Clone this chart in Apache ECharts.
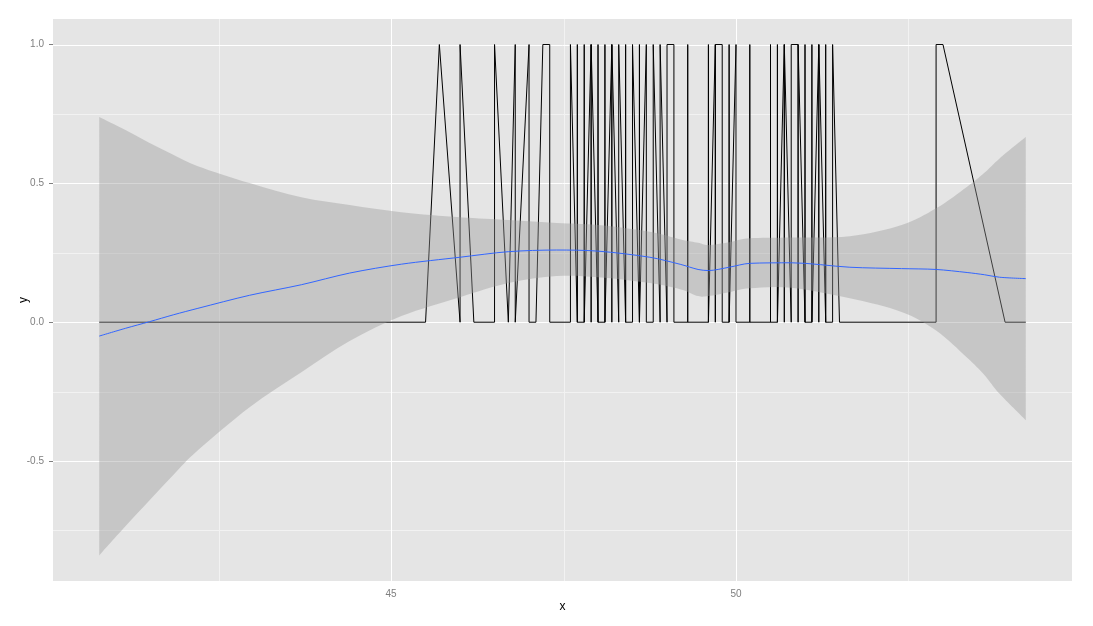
<!DOCTYPE html>
<html><head><meta charset="utf-8">
<script src="https://cdn.jsdelivr.net/npm/echarts@6/dist/echarts.min.js"></script>
<style>html,body{margin:0;padding:0;background:#fff}#c{width:1093px;height:626px}</style>
</head><body><div id="c"></div>
<script>
// raw line: x values (grid of 0.1) and the y values of points sharing each x, in drawing order
const stepX = [40.77, 45.5, 45.7, 46.0, 46.2, 46.5, 46.7, 46.8, 47.0, 47.1, 47.2, 47.3, 47.6, 47.7, 47.8, 47.9, 48.0, 48.1, 48.2, 48.3, 48.4, 48.5, 48.6, 48.7, 48.8, 48.9, 49.0, 49.1, 49.3, 49.6, 49.7, 49.8, 49.9, 50.0, 50.2, 50.5, 50.6, 50.7, 50.8, 50.9, 51.0, 51.1, 51.2, 51.3, 51.4, 51.5, 52.9, 53.0, 53.9, 54.2];
const stepY = [[0],[0],[1],[0,1],[0],[0,1],[0],[1,0],[1,0],[0],[1],[1,0],[0,1],[0,1,0],[0,1,0],[1,0,1],[0,1,0],[0,1,0],[1,0,1],[0,1],[0,1,0],[0,1],[0,1,0],[1,0],[0,1],[0,1],[0,1],[1,0],[0,1,0],[0,1,0],[1,0,1],[1,0],[0,1,0],[1,0],[0,1,0],[0,1,0],[0,1,0],[1,0,1],[0,1],[1,0,1],[0,1,0],[0,1,0],[1,0,1],[0,1,0],[0,1],[0],[0,1],[1],[0],[0]];

// smoother (fit) and its confidence band
const smoothX = [40.77, 41.15, 41.5, 41.85, 42.2, 42.95, 43.7, 44.4, 45.15, 46.0, 46.7, 47.4, 48.0, 48.75, 49.2, 49.45, 49.6, 49.9, 50.2, 50.8, 51.65, 52.4, 52.9, 53.35, 53.6, 53.82, 54.2];
const smoothFit = [-0.050, -0.022, 0.002, 0.027, 0.050, 0.097, 0.135, 0.177, 0.209, 0.234, 0.254, 0.260, 0.256, 0.234, 0.208, 0.190, 0.186, 0.198, 0.212, 0.214, 0.198, 0.193, 0.190, 0.179, 0.171, 0.162, 0.157];
const smoothLo = [-0.840, -0.735, -0.641, -0.548, -0.461, -0.306, -0.180, -0.068, 0.022, 0.090, 0.141, 0.166, 0.162, 0.141, 0.118, 0.094, 0.094, 0.108, 0.122, 0.124, 0.086, 0.037, -0.030, -0.128, -0.190, -0.258, -0.353];
const smoothHi = [0.739, 0.692, 0.645, 0.602, 0.562, 0.501, 0.450, 0.422, 0.396, 0.378, 0.368, 0.357, 0.350, 0.326, 0.298, 0.286, 0.278, 0.288, 0.302, 0.305, 0.310, 0.350, 0.410, 0.488, 0.538, 0.590, 0.667];

// axes
const xTicks = [45, 50];
const xMinor = [42.5, 47.5, 52.5];
const yTicks = [-0.5, 0.0, 0.5, 1.0];
const yMinor = [-0.75, -0.25, 0.25, 0.75];
const xRange = [40.1, 54.87];
const yRange = [-0.932, 1.092];

const lineData = [];
stepX.forEach((x, i) => stepY[i].forEach(y => lineData.push([x, y])));

const gridData = [];
xMinor.forEach(v => gridData.push([v, 0, 0, 0]));
yMinor.forEach(v => gridData.push([45, v, 1, 0]));
xTicks.forEach(v => gridData.push([v, 0, 0, 1]));
yTicks.forEach(v => gridData.push([45, v, 1, 1]));

// Catmull-Rom curve through pixel points, as SVG path commands
function curve(pts, startWithMove) {
  let d = startWithMove ? 'M' + pts[0][0] + ' ' + pts[0][1] : 'L' + pts[0][0] + ' ' + pts[0][1];
  for (let i = 0; i < pts.length - 1; i++) {
    const p0 = pts[Math.max(i - 1, 0)], p1 = pts[i], p2 = pts[i + 1], p3 = pts[Math.min(i + 2, pts.length - 1)];
    const c1 = [p1[0] + (p2[0] - p0[0]) / 6, p1[1] + (p2[1] - p0[1]) / 6];
    const c2 = [p2[0] - (p3[0] - p1[0]) / 6, p2[1] - (p3[1] - p1[1]) / 6];
    d += 'C' + c1[0] + ' ' + c1[1] + ' ' + c2[0] + ' ' + c2[1] + ' ' + p2[0] + ' ' + p2[1];
  }
  return d;
}

const chart = echarts.init(document.getElementById('c'), null, {renderer: 'canvas'});
const font = 'Liberation Sans, Arial, sans-serif';
chart.setOption({
  animation: false,
  backgroundColor: '#ffffff',
  grid: {left: 53, right: 21, top: 19, bottom: 45, show: true, backgroundColor: '#E5E5E5', borderWidth: 0},
  xAxis: {
    type: 'value', min: xRange[0], max: xRange[1],
    axisLine: {show: false},
    axisTick: {show: true, length: 4, lineStyle: {color: '#7F7F7F', width: 1}, customValues: xTicks},
    axisLabel: {customValues: xTicks, color: '#7F7F7F', fontSize: 10, fontFamily: font, margin: 8},
    splitLine: {show: false},
    name: 'x', nameLocation: 'middle', nameGap: 20, nameMoveOverlap: false,
    nameTextStyle: {color: '#000', fontSize: 12, fontFamily: font}
  },
  yAxis: {
    type: 'value', min: yRange[0], max: yRange[1],
    axisLine: {show: false},
    axisTick: {show: true, length: 4, lineStyle: {color: '#7F7F7F', width: 1}, customValues: yTicks},
    axisLabel: {customValues: yTicks, color: '#7F7F7F', fontSize: 10, fontFamily: font, margin: 9,
      formatter: v => Number(v).toFixed(1)},
    splitLine: {show: false},
    name: 'y', nameLocation: 'middle', nameGap: 23, nameRotate: 90, nameMoveOverlap: false,
    nameTextStyle: {color: '#000', fontSize: 12, fontFamily: font}
  },
  series: [
    {
      type: 'custom', z: 1, silent: true,
      data: gridData,
      encode: {x: 0, y: 1},
      renderItem: function (params, api) {
        const cs = params.coordSys;
        const isY = api.value(2) === 1, major = api.value(3) === 1;
        const p = api.coord([api.value(0), api.value(1)]);
        let shape;
        if (isY) { const y = Math.round(p[1]) + 0.5; shape = {x1: cs.x, y1: y, x2: cs.x + cs.width, y2: y}; }
        else { const x = Math.round(p[0]) + 0.5; shape = {x1: x, y1: cs.y, x2: x, y2: cs.y + cs.height}; }
        return {type: 'line', shape: shape, style: {stroke: major ? '#FFFFFF' : '#F2F2F2', lineWidth: 1}};
      }
    },
    {
      type: 'line', z: 2, data: lineData, showSymbol: false, symbol: 'none', silent: true,
      lineStyle: {color: '#000000', width: 1}
    },
    {
      type: 'custom', z: 3, silent: true,
      data: smoothX.map((x, i) => [x, smoothLo[i], smoothHi[i]]),
      encode: {x: 0, y: [1, 2]},
      renderItem: function (params, api) {
        if (params.dataIndex !== 0) return null;
        const up = [], lo = [];
        for (let i = 0; i < smoothX.length; i++) up.push(api.coord([smoothX[i], smoothHi[i]]));
        for (let i = smoothX.length - 1; i >= 0; i--) lo.push(api.coord([smoothX[i], smoothLo[i]]));
        const d = curve(up, true) + curve(lo, false) + 'Z';
        return {type: 'path', shape: {pathData: d}, style: {fill: 'rgba(153,153,153,0.4)', stroke: null}};
      }
    },
    {
      type: 'line', z: 4, data: smoothX.map((x, i) => [x, smoothFit[i]]), showSymbol: false, symbol: 'none',
      smooth: 0.3, silent: true,
      lineStyle: {color: '#3366FF', width: 1}
    }
  ]
});
</script>
</body></html>
